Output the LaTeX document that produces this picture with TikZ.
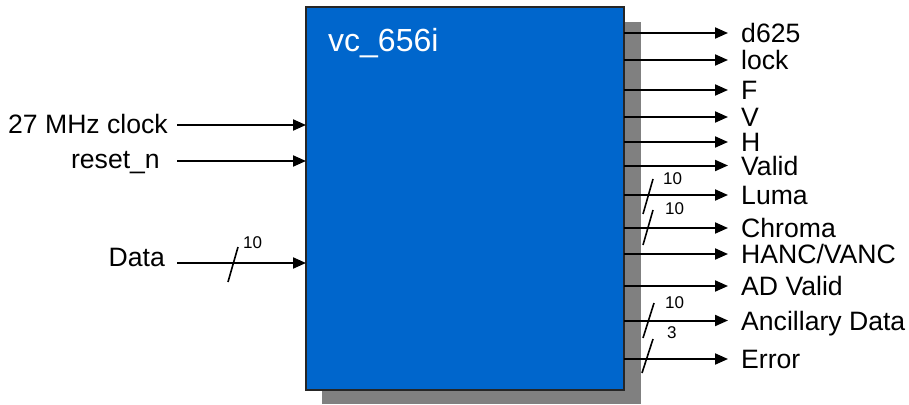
\documentclass[tikz,border=0pt]{standalone}
\usepackage{fontspec}
\setmainfont{Liberation Sans}
\usetikzlibrary{arrows.meta}
\definecolor{boxblue}{HTML}{0066CC}
\definecolor{shadowgray}{HTML}{808080}
\begin{document}
\begin{tikzpicture}[x=1pt,y=-1pt,
  sig/.style={line width=2pt,-{Triangle[length=13pt,width=11pt]}},
  slashline/.style={line width=1.6pt},
  lbl/.style={font=\fontsize{26.6}{30}\selectfont,text height=19.1pt,text depth=0pt,inner ysep=0pt},
  outlbl/.style={lbl,anchor=west,inner xsep=13pt},
  inlbl/.style={lbl,anchor=east,inner xsep=0pt},
  buswidth/.style={font=\fontsize{17}{18}\selectfont,text height=12.2pt,text depth=0pt,inner sep=0pt,anchor=west}]
\useasboundingbox (0,0) rectangle (909,404);
% shadow
\fill[shadowgray] (322,22) rectangle (641,404);
% block
\node[draw=black!85,line width=1.5pt,fill=boxblue,minimum width=318pt,minimum height=383pt,anchor=north west,inner sep=0pt,outer sep=0pt] (box) at (306,7) {};
\node[anchor=base west,inner sep=0pt,text=white,font=\fontsize{32}{36}\selectfont] (title) at (328,51.5) {vc\_656i};
% outputs
\node[outlbl] (o1) at (728,33) {d625};
\node[outlbl] (o2) at (728,60) {lock};
\node[outlbl] (o3) at (728,90) {F};
\node[outlbl] (o4) at (728,117) {V};
\node[outlbl] (o5) at (728,142) {H};
\node[outlbl] (o6) at (728,165.5) {Valid};
\node[outlbl] (o7) at (728,195) {Luma};
\node[outlbl] (o8) at (728,228) {Chroma};
\node[outlbl] (o9) at (728,254) {HANC/VANC};
\node[outlbl] (o10) at (728,286) {AD Valid};
\node[outlbl] (o11) at (728,320.5) {Ancillary Data};
\node[outlbl] (o12) at (728,359) {Error};
\foreach \n in {1,...,12} {\draw[sig] (box.east |- o\n.west) -- (o\n.west);}
% bus slashes on outputs
\draw[slashline] (653,179) -- (643,214);
\node[buswidth] (w7) at (663,178) {10};
\draw[slashline] (653,210) -- (643,245);
\node[buswidth] (w8) at (665,208) {10};
\draw[slashline] (654,303) -- (643,338);
\node[buswidth] (w11) at (665,302) {10};
\draw[slashline] (653,339) -- (642,373);
\node[buswidth] (w12) at (667,332) {3};
% inputs
\node[inlbl] (i1) at (168,124) {27 MHz clock};
\node[inlbl] (i2) at (160,159) {reset\_n};
\node[inlbl] (i3) at (165,257) {Data};
\coordinate (s1) at (177,125);
\coordinate (s2) at (177,161);
\coordinate (s3) at (177,263);
\draw[sig] (s1) -- (box.west |- s1);
\draw[sig] (s2) -- (box.west |- s2);
\draw[sig] (s3) -- (box.west |- s3);
\draw[slashline] (238,247) -- (228,282);
\node[buswidth] (w3) at (243,242) {10};
\end{tikzpicture}
\end{document}
